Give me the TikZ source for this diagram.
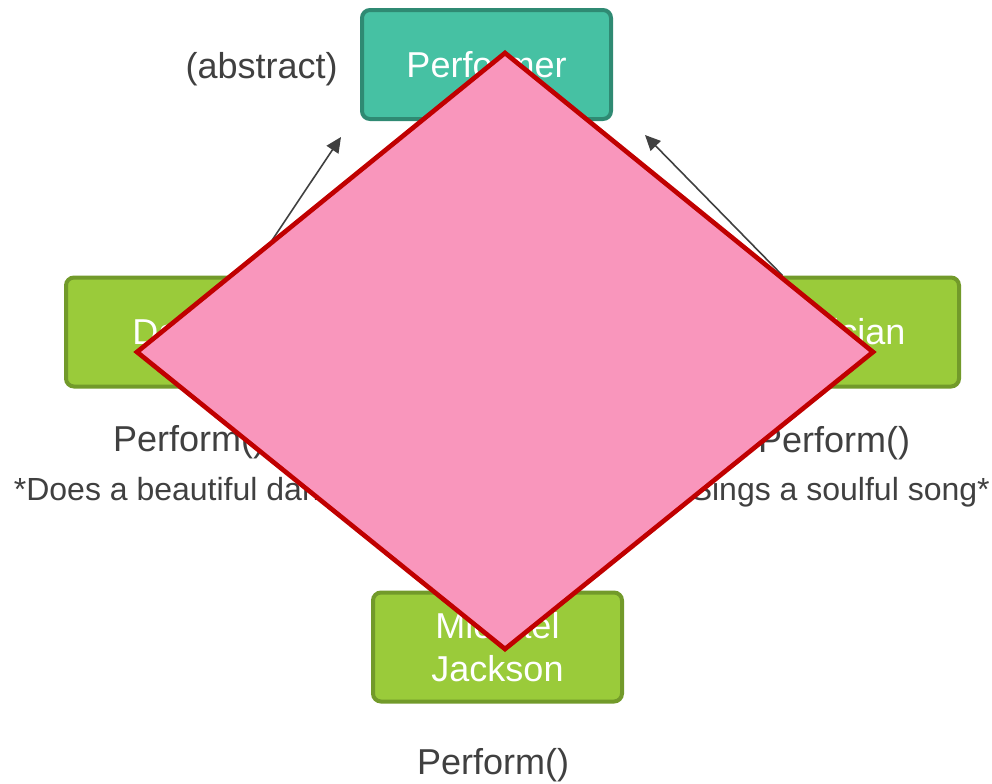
\documentclass[tikz,border=0pt]{standalone}
\usepackage{fontspec}
\setmainfont{Liberation Sans}
\usetikzlibrary{arrows.meta}
\definecolor{tealfill}{HTML}{46C1A3}
\definecolor{tealline}{HTML}{2F8A73}
\definecolor{greenfill}{HTML}{9ACB3A}
\definecolor{greenline}{HTML}{729A2A}
\definecolor{pinkfill}{HTML}{F996BC}
\definecolor{redline}{HTML}{C00000}
\definecolor{txtgray}{HTML}{404040}
\begin{document}
\begin{tikzpicture}[
        x=0.75pt, y=-0.75pt,
        box/.style={draw, line width=3pt, rounded corners=6pt, minimum width=186.75pt, minimum height=81.75pt, align=center, text=white, font=\fontsize{27}{32}\selectfont},
        parent/.style={box, fill=tealfill, draw=tealline},
        derived/.style={box, fill=greenfill, draw=greenline},
        note/.style={text=txtgray, inner sep=0pt, anchor=base, font=\fontsize{27}{32}\selectfont},
        small/.style={note, font=\fontsize{24}{28}\selectfont},
        link/.style={draw=txtgray, line width=1.2pt, -{Triangle[length=11.5pt,width=10.5pt]}},
        cover/.style={fill=pinkfill, draw=redline, line width=3.5pt}
    ]
    \useasboundingbox (0,0) rectangle (992,783);
    \node[parent] (perf) at (486.5,64.5) {Performer};
    \node[note, anchor=base east] (abs) at (338,78) {(abstract)};
    \node[derived] (dancer) at (190.5,332) {Dancer};
    \node[derived] (musician) at (834.5,332) {Musician};
    \node[derived] (mj) at (497.5,647) {Michael\\Jackson};
    \node[note] (dperf) at (189,451) {Perform()};
    \node[small] (ddesc) at (190,500) {*Does a beautiful dance*};
    \node[note] (mperf) at (834,452) {Perform()};
    \node[small] (mdesc) at (834,500) {*Sings a soulful song*};
    \node[note] (jperf) at (493,774) {Perform()};
    \draw[link] ([xshift=43.5pt]dancer.north) -- ([shift={(-19,16)}]perf.south west);
    \draw[link] ([xshift=-39pt]musician.north) -- ([shift={(32,14)}]perf.south east);
    \draw[cover] (505,53) -- (873,352) -- (505,649) -- (137,352) -- cycle;
\end{tikzpicture}
\end{document}
